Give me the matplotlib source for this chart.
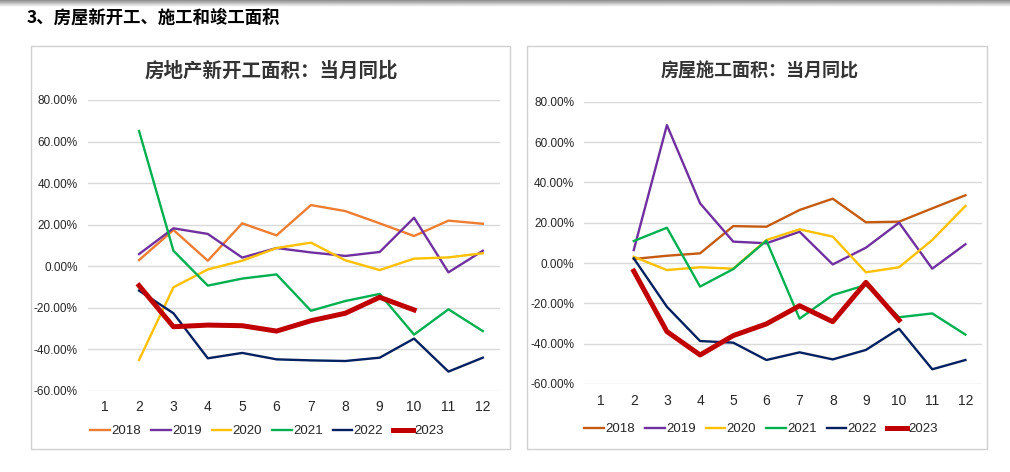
"""Two panels: housing new starts / under-construction area, monthly YoY by year."""

import matplotlib
matplotlib.use("Agg")
import matplotlib.pyplot as plt
import numpy as np
from matplotlib.patches import Rectangle

W, H = 1010, 472

months = list(range(1, 13))
years = ["2018", "2019", "2020", "2021", "2022", "2023"]

# 房地产新开工面积：当月同比 (%), months 2..12
starts_2018 = [2.9, 17.4, 2.6, 20.6, 14.8, 29.4, 26.5, 20.6, 14.5, 21.9, 20.4]
starts_2019 = [5.8, 18.2, 15.5, 4.1, 8.7, 6.6, 4.9, 6.8, 23.3, -3.0, 7.4]
starts_2020 = [-45.2, -10.2, -1.6, 2.6, 8.7, 11.3, 2.8, -1.9, 3.6, 4.2, 6.2]
starts_2021 = [65.1, 7.4, -9.4, -6.0, -4.0, -21.5, -16.8, -13.4, -33.0, -20.8, -31.3]
starts_2022 = [-11.8, -22.7, -44.4, -41.8, -44.9, -45.4, -45.7, -44.1, -34.9, -50.8, -44.1]
starts_2023 = [-9.4, -29.2, -28.4, -28.7, -31.3, -26.3, -22.7, -15.0, -21.1]

# 房屋施工面积：当月同比 (%), months 2..12
constr_2018 = [2.0, 3.6, 4.8, 18.3, 18.0, 26.3, 31.9, 20.2, 20.5, 27.1, 33.6]
constr_2019 = [6.4, 68.4, 29.6, 10.6, 9.8, 15.5, -0.7, 7.6, 20.0, -2.8, 9.3]
constr_2020 = [3.1, -3.5, -2.1, -2.8, 11.4, 16.7, 13.1, -4.6, -2.1, 11.4, 28.3]
constr_2021 = [10.9, 17.5, -11.7, -3.0, 11.1, -27.6, -15.9, -10.9, -26.9, -25.0, -35.5]
constr_2022 = [2.3, -21.7, -38.7, -39.5, -48.1, -44.3, -47.8, -43.1, -32.6, -52.7, -48.1]
constr_2023 = [-4.0, -34.0, -45.6, -36.0, -30.2, -21.2, -29.1, -9.6, -28.3]

SANS = ["Liberation Sans", "DejaVu Sans"]
CJK = ["Noto Sans CJK SC", "DejaVu Sans"]


def fx(x):
    return x / W


def fy(y):
    return 1 - y / H


def axes_px(fig, x0, y0, x1, y1):
    return fig.add_axes([fx(x0), fy(y1), fx(x1) - fx(x0), fy(y0) - fy(y1)])


def panel(fig, box, ax_px, title, title_size, title_x, series, colors, legend_xy):
    bx0, by0, bx1, by1 = box
    fig.patches.append(Rectangle((fx(bx0), fy(by1)), fx(bx1) - fx(bx0), fy(by0) - fy(by1),
                                 transform=fig.transFigure, fill=False,
                                 edgecolor="#d0d0d0", linewidth=1.0))
    ax = axes_px(fig, *ax_px)
    for yr, vals, col in zip(years, series, colors):
        lw = 3.6 if yr == "2023" else 1.7
        ax.plot(months[1:1 + len(vals)], vals, color=col, linewidth=lw,
                label=yr, solid_joinstyle="round", zorder=3 if yr == "2023" else 2)

    ax.set_xlim(0.5, 12.5)
    ax.set_ylim(-60, 80)
    ax.set_xticks(months)
    ax.set_yticks(np.arange(-60, 81, 20))
    ax.set_yticklabels([f"{v:.2f}%" for v in np.arange(-60, 81, 20)])
    ax.grid(axis="y", color="#d9d9d9", linewidth=1.0)
    ax.set_axisbelow(True)
    for s in ax.spines.values():
        s.set_visible(False)
    ax.tick_params(axis="y", length=0, colors="#262626", labelsize=8.5, pad=7)
    ax.tick_params(axis="x", length=0, colors="#262626", labelsize=10, pad=7)
    for lab in ax.get_xticklabels() + ax.get_yticklabels():
        lab.set_family(SANS)

    fig.text(fx(title_x), fy(71), title, ha="center", va="center",
             fontsize=title_size, family=CJK, fontweight="bold", color="#333333")

    leg = ax.legend(loc="center", bbox_to_anchor=(fx(legend_xy[0]), fy(legend_xy[1])),
                    bbox_transform=fig.transFigure, ncol=6, frameon=False,
                    handlelength=1.5, handletextpad=0.1, columnspacing=0.75,
                    prop={"family": SANS, "size": 9.5})
    for t in leg.get_texts():
        t.set_color("#262626")
    return ax


def main():
    fig = plt.figure(figsize=(W / 100, H / 100), dpi=100)

    # gray shadow strip along the top edge
    shade = fig.add_axes([0, fy(7), 1, 7 / H])
    shade.imshow(np.linspace(0.55, 1.0, 20).reshape(-1, 1), cmap="gray",
                 aspect="auto", vmin=0, vmax=1, extent=(0, 1, 0, 1))
    shade.axis("off")

    fig.text(fx(27), fy(18), "3、房屋新开工、施工和竣工面积", ha="left", va="center",
             fontsize=12.5, fontweight="bold", family=CJK, color="#000000")

    left_colors = ["#ed7d31", "#7030a0", "#ffc000", "#00b050", "#002060", "#c00000"]
    right_colors = ["#c55a11", "#7030a0", "#ffc000", "#00b050", "#002060", "#c00000"]

    panel(fig, (31, 46, 510, 449), (87.5, 100, 500, 390.7),
          "房地产新开工面积：当月同比", 14, 271,
          [starts_2018, starts_2019, starts_2020, starts_2021, starts_2022, starts_2023],
          left_colors, (267, 431))
    panel(fig, (527, 46, 987, 449), (584, 101.7, 982, 384),
          "房屋施工面积：当月同比", 13, 760,
          [constr_2018, constr_2019, constr_2020, constr_2021, constr_2022, constr_2023],
          right_colors, (761, 429))

    fig.savefig("out.png", dpi=100, facecolor="white")


if __name__ == "__main__":
    main()
